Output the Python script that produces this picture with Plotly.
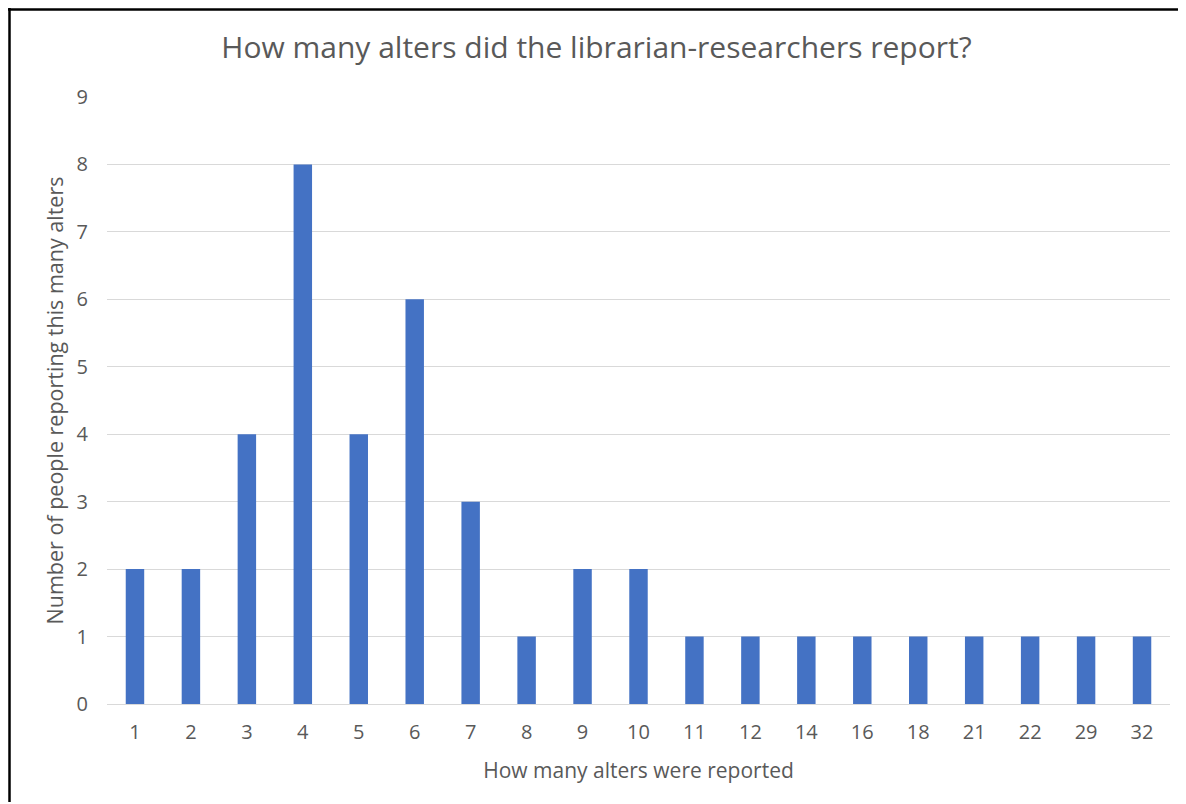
import plotly.graph_objects as go

categories = ["1", "2", "3", "4", "5", "6", "7", "8", "9", "10", "11", "12", "14", "16", "18", "21", "22", "29", "32"]
counts = [2, 2, 4, 8, 4, 6, 3, 1, 2, 2, 1, 1, 1, 1, 1, 1, 1, 1, 1]
y_ticks = list(range(0, 10))

OFF = 8  # page body margin
W, H = 1177, 794
ML, MT = 107 - OFF, 97 - OFF
PR, PB = 1170 - OFF, 704 - OFF
MR, MB = W - PR, H - PB
pw = W - ML - MR
ph = H - MT - MB

def px_x(p):
    return (p - OFF - ML) / pw

def px_y(p):
    return (H - MB - (p - OFF)) / ph

grey = "#595959"
font = "Open Sans, Noto Sans, sans-serif"

fig = go.Figure(go.Bar(
    x=categories, y=counts,
    marker=dict(color="#4472C4", line=dict(width=0)),
    width=0.33,
))

fig.update_layout(
    width=W, height=H,
    margin=dict(l=ML, r=MR, t=MT, b=MB),
    paper_bgcolor="white", plot_bgcolor="white",
    font=dict(family=font, color=grey),
    title=dict(text="How many alters did the librarian-researchers report?",
               x=0.5, xanchor="center", y=1 - (47 - OFF) / H, yanchor="middle",
               font=dict(size=30, color=grey, family=font)),
    xaxis=dict(type="category", tickfont=dict(size=20, color=grey),
               showgrid=False, showline=False, ticks="", ticklabelstandoff=14,
               title=dict(text="How many alters were reported", font=dict(size=21, color=grey), standoff=19)),
    yaxis=dict(range=[0, 9], tickvals=y_ticks, tickfont=dict(size=20, color=grey),
               showgrid=True, gridcolor="#D9D9D9", gridwidth=1, zeroline=True,
               zerolinecolor="#D9D9D9", zerolinewidth=1, ticks="", ticklabelstandoff=18,
               title=dict(text="Number of people reporting this many alters", font=dict(size=21.5, color=grey), standoff=7)),
    showlegend=False,
    shapes=[
        dict(type="line", xref="paper", yref="paper", x0=px_x(8), x1=px_x(1200), y0=px_y(9.5), y1=px_y(9.5),
             line=dict(color="black", width=2.5)),
        dict(type="line", xref="paper", yref="paper", x0=px_x(9.5), x1=px_x(9.5), y0=px_y(8), y1=px_y(820),
             line=dict(color="black", width=2.5)),
    ],
)

fig.write_html("out.html")
